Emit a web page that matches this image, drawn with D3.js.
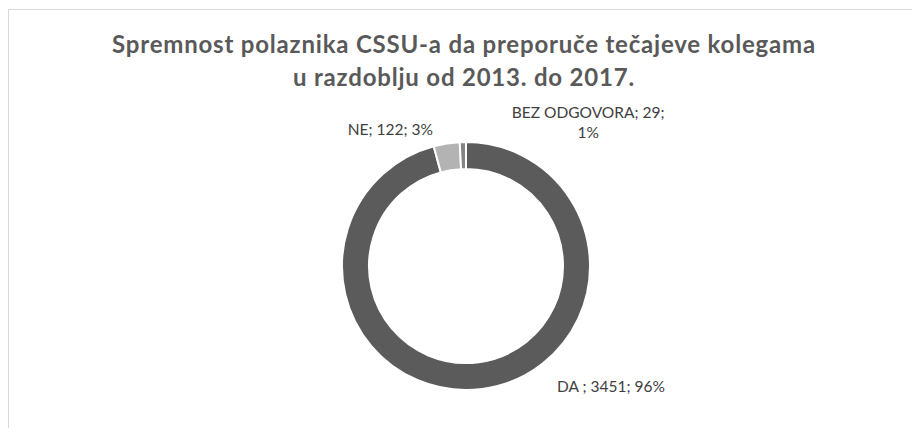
<!DOCTYPE html>
<html>
<head>
<meta charset="utf-8">
<script src="https://cdn.jsdelivr.net/npm/d3@7"></script>
<style>
  body { margin: 0; background: #fff; }
  text { font-family: Lato, "Open Sans", sans-serif; }
</style>
</head>
<body>
<svg id="chart" width="912" height="428"></svg>
<script>
// podaci
var categories = ["DA ", "NE", "BEZ ODGOVORA"];
var counts = [3451, 122, 29];
var percents = ["96%", "3%", "1%"];
var colors = ["#5b5b5b", "#b3b3b3", "#858585"];
var titleLines = ["Spremnost polaznika CSSU-a da preporuče tečajeve kolegama", "u razdoblju od 2013. do 2017."];

var W = 912, H = 428;
var cx = 466, cy = 266, rOuter = 124, rInner = 97;
// pomak oznaka od centra vanjskog luka (Excel ih razmjesti sam)
var labelNudge = [[125, -25], [-52, 19], [126, 4]];

var svg = d3.select("#chart");

// okvir
svg.append("path")
   .attr("d", "M8.5," + H + "V9.5H" + W)
   .attr("fill", "none")
   .attr("stroke", "#d9d9d9")
   .attr("stroke-width", 1);

// naslov
svg.selectAll("text.title")
   .data(titleLines)
   .enter().append("text")
   .attr("class", "title")
   .attr("x", 464)
   .attr("y", function(d, i){ return 53 + i * 33; })
   .attr("text-anchor", "middle")
   .attr("font-size", "24px")
   .attr("font-weight", "bold")
   .attr("letter-spacing", "0.8px")
   .attr("fill", "#595959")
   .text(function(d){ return d; });

var pie = d3.pie().sort(null).value(function(d){ return d; });
var arcs = pie(counts);
var arc = d3.arc().innerRadius(rInner).outerRadius(rOuter);
var labelArc = d3.arc().innerRadius(rOuter + 28).outerRadius(rOuter + 28);

var g = svg.append("g").attr("transform", "translate(" + cx + "," + cy + ")");

g.selectAll("path.slice")
 .data(arcs)
 .enter().append("path")
 .attr("class", "slice")
 .attr("d", arc)
 .attr("fill", function(d, i){ return colors[i]; })
 .attr("stroke", "#fff")
 .attr("stroke-width", 2);

// oznake
var lbl = g.selectAll("text.lbl")
 .data(arcs)
 .enter().append("text")
 .attr("class", "lbl")
 .attr("text-anchor", "middle")
 .attr("font-size", "15.5px")
 .attr("fill", "#404040")
 .attr("transform", function(d, i){
    var c = labelArc.centroid(d);
    return "translate(" + (c[0] + labelNudge[i][0]) + "," + (c[1] + labelNudge[i][1]) + ")";
 });

lbl.each(function(d, i){
  var t = d3.select(this);
  var s = categories[i] + "; " + counts[i] + ";";
  if (i == 2) {
    t.append("tspan").attr("x", 0).attr("dy", 0).text(s);
    t.append("tspan").attr("x", 0).attr("dy", 20).text(percents[i]);
  } else {
    t.append("tspan").attr("x", 0).text(s + " " + percents[i]);
  }
});
</script>
</body>
</html>
